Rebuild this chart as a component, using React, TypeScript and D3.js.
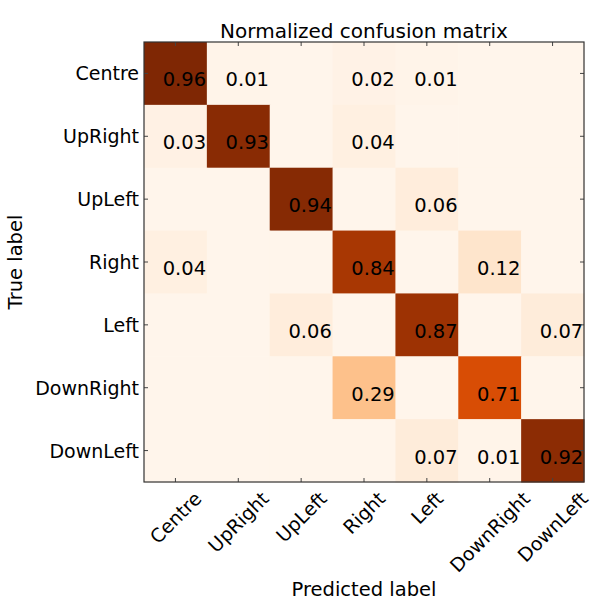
import * as d3 from "d3";
import { useRef, useEffect } from "react";

const classes = ["Centre", "UpRight", "UpLeft", "Right", "Left", "DownRight", "DownLeft"];

// rows = true label, columns = predicted label
const rowCentre = [0.96, 0.01, 0, 0.02, 0.01, 0, 0];
const rowUpRight = [0.03, 0.93, 0, 0.04, 0, 0, 0];
const rowUpLeft = [0, 0, 0.94, 0, 0.06, 0, 0];
const rowRight = [0.04, 0, 0, 0.84, 0, 0.12, 0];
const rowLeft = [0, 0, 0.06, 0, 0.87, 0, 0.07];
const rowDownRight = [0, 0, 0, 0.29, 0, 0.71, 0];
const rowDownLeft = [0, 0, 0, 0, 0.07, 0.01, 0.92];

const matrix = [rowCentre, rowUpRight, rowUpLeft, rowRight, rowLeft, rowDownRight, rowDownLeft];

const title = "Normalized confusion matrix";
const xLabel = "Predicted label";
const yLabel = "True label";

export default function App() {
  const chartRef = useRef<SVGSVGElement>(null);
  const width = 595;
  const height = 602;
  const left = 144;
  const top = 42;
  const size = 440;

  useEffect(() => {
    const svg = d3.select(chartRef.current);
    svg.selectAll("*").remove();
    const font = "DejaVu Sans, sans-serif";

    const x = d3.scaleBand().domain(classes).range([left, left + size]);
    const y = d3.scaleBand().domain(classes).range([top, top + size]);

    const maxVal = d3.max(matrix.flat()) as number;
    const color = d3.scaleSequential(d3.interpolateOranges).domain([0, maxVal]);

    const cells = matrix.flatMap((row, i) =>
      row.map((v, j) => ({ row: classes[i], col: classes[j], v })),
    );

    // Cells
    svg
      .append("g")
      .selectAll("rect")
      .data(cells)
      .join("rect")
      .attr("x", (d) => x(d.col)!)
      .attr("y", (d) => y(d.row)!)
      .attr("width", x.bandwidth() + 0.5)
      .attr("height", y.bandwidth() + 0.5)
      .attr("fill", (d) => color(d.v));

    // Values
    svg
      .append("g")
      .selectAll("text")
      .data(cells.filter((d) => d.v > 0))
      .join("text")
      .attr("x", (d) => x(d.col)! + x.bandwidth() / 2 + 9)
      .attr("y", (d) => y(d.row)! + y.bandwidth() / 2 + 13)
      .attr("text-anchor", "middle")
      .attr("font-family", font)
      .attr("font-size", 19.5)
      .attr("fill", "#000")
      .text((d) => d.v.toFixed(2));

    // Ticks on all four sides, pointing inward
    const tickLen = 4;
    const ticks = svg.append("g").attr("stroke", "#444").attr("stroke-width", 1);
    classes.forEach((c) => {
      const cx = x(c)! + x.bandwidth() / 2;
      const cy = y(c)! + y.bandwidth() / 2;
      ticks.append("line").attr("x1", cx).attr("x2", cx).attr("y1", top).attr("y2", top + tickLen);
      ticks.append("line").attr("x1", cx).attr("x2", cx).attr("y1", top + size).attr("y2", top + size - tickLen);
      ticks.append("line").attr("x1", left).attr("x2", left + tickLen).attr("y1", cy).attr("y2", cy);
      ticks.append("line").attr("x1", left + size).attr("x2", left + size - tickLen).attr("y1", cy).attr("y2", cy);
    });

    // Frame
    svg
      .append("rect")
      .attr("x", left)
      .attr("y", top)
      .attr("width", size)
      .attr("height", size)
      .attr("fill", "none")
      .attr("stroke", "#333")
      .attr("stroke-width", 1.2);

    // Y tick labels
    svg
      .append("g")
      .selectAll("text")
      .data(classes)
      .join("text")
      .attr("x", left - 5)
      .attr("y", (d) => y(d)! + y.bandwidth() / 2 + 7)
      .attr("text-anchor", "end")
      .attr("font-family", font)
      .attr("font-size", 19)
      .text((d) => d);

    // X tick labels, rotated 45deg, bbox centred on tick
    const xl = svg
      .append("g")
      .selectAll("text")
      .data(classes)
      .join("text")
      .attr("text-anchor", "middle")
      .attr("dominant-baseline", "central")
      .attr("font-family", font)
      .attr("font-size", 19)
      .text((d) => d);
    xl.each(function (d) {
      const w = (this as SVGTextElement).getComputedTextLength();
      const half = (w + 17) / Math.SQRT2 / 2;
      const cx = x(d)! + x.bandwidth() / 2;
      const cy = top + size + 7 + half;
      d3.select(this)
        .attr("x", cx)
        .attr("y", cy)
        .attr("transform", `rotate(-45,${cx},${cy})`);
    });

    // Title and axis labels
    svg
      .append("text")
      .attr("x", left + size / 2)
      .attr("y", 38)
      .attr("text-anchor", "middle")
      .attr("font-family", font)
      .attr("font-size", 20)
      .text(title);

    svg
      .append("text")
      .attr("x", left + size / 2)
      .attr("y", 596)
      .attr("text-anchor", "middle")
      .attr("font-family", font)
      .attr("font-size", 19.5)
      .text(xLabel);

    svg
      .append("text")
      .attr("transform", `translate(22,${top + size / 2}) rotate(-90)`)
      .attr("text-anchor", "middle")
      .attr("font-family", font)
      .attr("font-size", 19.5)
      .text(yLabel);
  }, []);

  return (
    <svg
      ref={chartRef}
      width={width}
      height={height}
      viewBox={`0 0 ${width} ${height}`}
      style={{ position: "absolute", left: 0, top: 0, background: "#fff" }}
    />
  );
}
